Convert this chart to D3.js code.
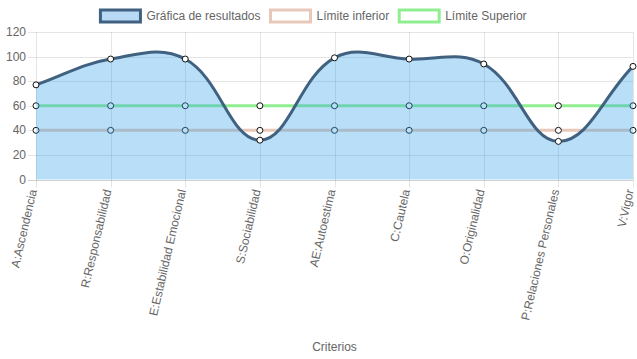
<!DOCTYPE html>
<html><head><meta charset="utf-8">
<script src="https://cdn.jsdelivr.net/npm/d3@7"></script>
<style>
html,body{margin:0;padding:0;background:#fff;}
svg{display:block;font-family:"Liberation Sans",Arial,Helvetica,sans-serif;}
</style></head>
<body>
<svg id="c" width="637" height="359"></svg>
<script>
const categories = ["A:Ascendencia","R:Responsabilidad","E:Estabilidad Emocional","S:Sociabilidad","AE:Autoestima","C:Cautela","O:Originalidad","P:Relaciones Personales","V:Vigor"];
const resultados = [77, 98, 98, 32, 99, 98, 94, 31, 92];
const limiteInferior = [40, 40, 40, 40, 40, 40, 40, 40, 40];
const limiteSuperior = [60, 60, 60, 60, 60, 60, 60, 60, 60];
const yTicks = [0, 20, 40, 60, 80, 100, 120];
const seriesNames = ["Gráfica de resultados", "Límite inferior", "Límite Superior"];
const xTitle = "Criterios";

const C = {
  main: "rgb(64,97,128)",
  fill: "rgba(54,162,235,0.35)",
  inf: "rgb(232,200,185)",
  sup: "rgb(144,238,144)",
  grid: "rgba(0,0,0,0.1)",
  text: "#666"
};
const area = {left: 36, right: 633, top: 32, bottom: 179.5};

const svg = d3.select("#c");
const x = d3.scalePoint().domain(categories).range([area.left, area.right]);
const y = d3.scaleLinear().domain([0, 120]).range([area.bottom, area.top]);

// grid
const g = svg.append("g");
g.selectAll("line.h").data(yTicks).join("line")
  .attr("x1", area.left - 8).attr("x2", area.right)
  .attr("y1", d => Math.round(y(d)) + 0.5).attr("y2", d => Math.round(y(d)) + 0.5)
  .attr("stroke", d => d === 0 ? "rgba(0,0,0,0.18)" : C.grid).attr("stroke-width", 1);
g.selectAll("line.v").data(categories).join("line")
  .attr("x1", d => Math.round(x(d)) + 0.5).attr("x2", d => Math.round(x(d)) + 0.5)
  .attr("y1", area.top).attr("y2", area.bottom + 8)
  .attr("stroke", C.grid).attr("stroke-width", 1);

// y tick labels
svg.append("g").selectAll("text").data(yTicks).join("text")
  .attr("x", area.left - 10).attr("y", d => y(d))
  .attr("text-anchor", "end").attr("dominant-baseline", "central")
  .attr("font-size", 12).attr("fill", C.text).text(d => d);

// x labels
svg.append("g").selectAll("text").data(categories).join("text")
  .attr("transform", d => `translate(${x(d) - 3},${area.bottom + 10}) rotate(-77)`)
  .attr("text-anchor", "end").attr("dominant-baseline", "central")
  .attr("font-size", 12).attr("fill", C.text).text(d => d);

svg.append("text").attr("x", (area.left + area.right) / 2).attr("y", 347)
  .attr("text-anchor", "middle").attr("dominant-baseline", "central")
  .attr("font-size", 12).attr("fill", C.text).text(xTitle);

// Chart.js-style spline
function splinePath(vals) {
  const pts = vals.map((v, i) => ({x: x(categories[i]), y: y(v)}));
  const t = 0.4;
  pts.forEach((cur, i) => {
    const prev = pts[i - 1] || cur, next = pts[i + 1] || cur;
    const d01 = Math.hypot(cur.x - prev.x, cur.y - prev.y);
    const d12 = Math.hypot(next.x - cur.x, next.y - cur.y);
    let s01 = d01 / (d01 + d12), s12 = d12 / (d01 + d12);
    if (isNaN(s01)) s01 = 0; if (isNaN(s12)) s12 = 0;
    const fa = t * s01, fb = t * s12;
    const clampX = v => Math.max(area.left, Math.min(area.right, v));
    const clampY = v => Math.max(area.top, Math.min(area.bottom, v));
    cur.cpPrev = {x: clampX(cur.x - fa * (next.x - prev.x)), y: clampY(cur.y - fa * (next.y - prev.y))};
    cur.cpNext = {x: clampX(cur.x + fb * (next.x - prev.x)), y: clampY(cur.y + fb * (next.y - prev.y))};
  });
  const p = d3.path();
  p.moveTo(pts[0].x, pts[0].y);
  for (let i = 1; i < pts.length; i++) {
    p.bezierCurveTo(pts[i - 1].cpNext.x, pts[i - 1].cpNext.y, pts[i].cpPrev.x, pts[i].cpPrev.y, pts[i].x, pts[i].y);
  }
  return {d: p.toString(), pts};
}

const line = d3.line().x((d, i) => x(categories[i])).y(d => y(d));

function drawPoints(vals) {
  svg.append("g").selectAll("circle").data(vals).join("circle")
    .attr("cx", (d, i) => x(categories[i])).attr("cy", d => y(d)).attr("r", 3)
    .attr("fill", "#fff").attr("stroke", "#111").attr("stroke-width", 1);
}

// draw in reverse dataset order
svg.append("path").attr("d", line(limiteSuperior)).attr("fill", "none")
  .attr("stroke", C.sup).attr("stroke-width", 3);
drawPoints(limiteSuperior);
svg.append("path").attr("d", line(limiteInferior)).attr("fill", "none")
  .attr("stroke", C.inf).attr("stroke-width", 3);
drawPoints(limiteInferior);

const sp = splinePath(resultados);
svg.append("path")
  .attr("d", sp.d + `L${area.right},${y(0)}L${area.left},${y(0)}Z`)
  .attr("fill", C.fill).attr("stroke", "none");
svg.append("path").attr("d", sp.d).attr("fill", "none")
  .attr("stroke", C.main).attr("stroke-width", 3);
drawPoints(resultados);

// legend
const legendColors = [{stroke: C.main, fill: "rgb(184,218,247)"}, {stroke: C.inf, fill: "#fff"}, {stroke: C.sup, fill: "#fff"}];
const lg = svg.append("g");
const items = lg.selectAll("g").data(seriesNames).join("g");
items.append("text").attr("font-size", 12).attr("fill", C.text)
  .attr("dominant-baseline", "central").attr("y", 16).text(d => d);
const widths = [];
items.select("text").each(function() { widths.push(this.getComputedTextLength()); });
const itemW = widths.map(w => 40 + 6 + w + 10);
const total = d3.sum(itemW);
let cx = (637 - total) / 2;
items.each(function(d, i) {
  const s = d3.select(this);
  s.insert("rect", "text").attr("x", cx).attr("y", 10).attr("width", 40).attr("height", 12)
    .attr("fill", legendColors[i].fill).attr("stroke", legendColors[i].stroke).attr("stroke-width", 3);
  s.select("text").attr("x", cx + 46);
  cx += itemW[i];
});
</script>
</body></html>
